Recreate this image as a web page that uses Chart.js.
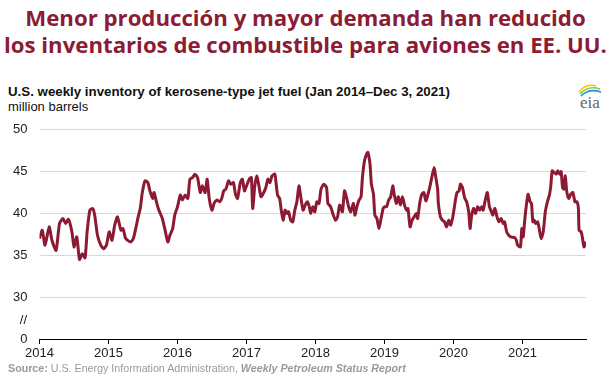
<!DOCTYPE html>
<html>
<head>
<meta charset="utf-8">
<script src="https://cdn.jsdelivr.net/npm/chart.js@4.4.0/dist/chart.umd.min.js"></script>
<style>
    body { margin: 0; width: 611px; height: 376px; overflow: hidden; background: #fff; position: relative; font-family: "Liberation Sans", Arial, sans-serif; }
    #title { position: absolute; left: 0; top: 4px; width: 611px; text-align: center; color: #8c1b34; font-family: "Open Sans", sans-serif; font-weight: 700; font-size: 22.2px; line-height: 27px; white-space: nowrap; }
    #sub { position: absolute; left: 8px; top: 84px; font-weight: bold; font-size: 13.3px; color: #111; white-space: nowrap; }
    #units { position: absolute; left: 8px; top: 99px; font-size: 13px; color: #111; }
    #logo { position: absolute; left: 574px; top: 83px; }
    #src { position: absolute; left: 8px; top: 362px; font-size: 10.7px; color: #9a9a9a; white-space: nowrap; }
    #src b { color: #9a9a9a; }
    #src i { color: #1a9ad6; }
    #chart-wrap { position: absolute; left: 0; top: 110px; width: 611px; height: 254px; }
</style>
</head>
<body>
<div id="title">Menor producción y mayor demanda han reducido<br>los inventarios de combustible para aviones en EE. UU.</div>
<div id="sub">U.S. weekly inventory of kerosene-type jet fuel (Jan 2014–Dec 3, 2021)</div>
<div id="units">million barrels</div>
<svg id="logo" width="32" height="28" viewBox="0 0 32 28">
    <path d="M6 11 Q14 2 26 6" stroke="#8cc63f" stroke-width="1.6" fill="none"/>
    <path d="M7 13 Q15 5 27 9" stroke="#1a9ad6" stroke-width="1.6" fill="none"/>
    <path d="M5 9 Q12 0 22 3" stroke="#f4c300" stroke-width="1.4" fill="none"/>
    <text x="16" y="25" text-anchor="middle" font-family="Liberation Serif, serif" font-size="17" fill="#666">eia</text>
</svg>
<div id="chart-wrap"><canvas id="chart" width="611" height="254"></canvas></div>
<div id="src"><b>Source:</b> U.S. Energy Information Administration, <i><b>Weekly Petroleum Status Report</b></i></div>

<script>
// decimal year of each reading
const weekYear = [
    2014.00, 2014.04, 2014.08, 2014.14, 2014.18, 2014.24, 2014.29, 2014.34, 2014.38, 2014.42,
    2014.47, 2014.50, 2014.54, 2014.58, 2014.62, 2014.66, 2014.69, 2014.73, 2014.77, 2014.80,
    2014.84, 2014.89, 2014.93, 2014.97, 2015.01, 2015.05, 2015.09, 2015.13, 2015.18, 2015.21,
    2015.25, 2015.32, 2015.36, 2015.40, 2015.43, 2015.46, 2015.49, 2015.53, 2015.57, 2015.60,
    2015.64, 2015.66, 2015.70, 2015.73, 2015.78, 2015.82, 2015.86, 2015.89, 2015.93, 2015.96,
    2016.00, 2016.04, 2016.07, 2016.11, 2016.15, 2016.18, 2016.22, 2016.25, 2016.29, 2016.33,
    2016.36, 2016.40, 2016.43, 2016.46, 2016.50, 2016.53, 2016.57, 2016.61, 2016.64, 2016.67,
    2016.70, 2016.74, 2016.77, 2016.81, 2016.84, 2016.87, 2016.91, 2016.94, 2016.97, 2017.00,
    2017.04, 2017.07, 2017.09, 2017.12, 2017.15, 2017.18, 2017.21, 2017.25, 2017.28, 2017.31,
    2017.34, 2017.37, 2017.41, 2017.43, 2017.45, 2017.48, 2017.50, 2017.53, 2017.56, 2017.59,
    2017.61, 2017.64, 2017.67, 2017.70, 2017.73, 2017.76, 2017.79, 2017.82, 2017.85, 2017.88,
    2017.91, 2017.93, 2017.96, 2017.99, 2018.02, 2018.05, 2018.08, 2018.12, 2018.16, 2018.18,
    2018.22, 2018.25, 2018.29, 2018.32, 2018.35, 2018.39, 2018.42, 2018.45, 2018.48, 2018.51,
    2018.55, 2018.57, 2018.60, 2018.63, 2018.66, 2018.68, 2018.71, 2018.74, 2018.76, 2018.79,
    2018.81, 2018.84, 2018.86, 2018.89, 2018.92, 2018.95, 2018.98, 2019.00, 2019.03, 2019.06,
    2019.09, 2019.12, 2019.14, 2019.17, 2019.20, 2019.23, 2019.26, 2019.29, 2019.32, 2019.34,
    2019.37, 2019.40, 2019.43, 2019.46, 2019.48, 2019.51, 2019.54, 2019.57, 2019.60, 2019.63,
    2019.66, 2019.69, 2019.72, 2019.74, 2019.77, 2019.78, 2019.81, 2019.84, 2019.87, 2019.90,
    2019.93, 2019.96, 2019.99, 2020.02, 2020.05, 2020.08, 2020.10, 2020.13, 2020.16, 2020.19,
    2020.22, 2020.24, 2020.26, 2020.29, 2020.32, 2020.35, 2020.38, 2020.41, 2020.43, 2020.46,
    2020.49, 2020.52, 2020.54, 2020.57, 2020.60, 2020.63, 2020.66, 2020.69, 2020.72, 2020.74,
    2020.77, 2020.80, 2020.83, 2020.89, 2020.91, 2020.93, 2020.97, 2020.99, 2021.01, 2021.03,
    2021.05, 2021.08, 2021.11, 2021.13, 2021.15, 2021.17, 2021.19, 2021.22, 2021.25, 2021.27,
    2021.30, 2021.33, 2021.36, 2021.39, 2021.41, 2021.43, 2021.46, 2021.49, 2021.51, 2021.54,
    2021.56, 2021.58, 2021.60, 2021.62, 2021.64, 2021.67, 2021.70, 2021.73, 2021.76, 2021.79,
    2021.81, 2021.82, 2021.85, 2021.87, 2021.89, 2021.92
];

// million barrels
const jetFuel = [
    37.0, 38.0, 36.2, 38.4, 36.8, 35.6, 38.8, 39.4, 38.8, 39.3,
    37.8, 36.0, 37.2, 34.5, 35.2, 34.7, 37.8, 40.4, 40.6, 39.8,
    37.4, 36.2, 35.8, 36.2, 37.8, 36.8, 38.6, 39.6, 38.0, 38.2,
    37.0, 36.6, 37.0, 38.4, 39.6, 40.6, 42.5, 43.9, 43.7, 42.7,
    41.8, 42.5, 41.2, 40.4, 39.4, 38.0, 36.6, 37.4, 38.2, 39.8,
    40.8, 42.2, 41.6, 42.2, 41.8, 44.1, 44.3, 44.7, 44.3, 42.5,
    43.3, 42.5, 44.1, 41.8, 40.4, 41.2, 41.6, 41.4, 41.8, 42.7,
    42.9, 43.9, 43.5, 43.7, 42.3, 41.8, 43.7, 44.1, 42.7, 43.3,
    44.1, 44.3, 40.6, 43.3, 44.5, 43.3, 42.0, 42.5, 43.1, 44.1,
    43.7, 44.5, 44.7, 43.5, 42.2, 41.8, 40.6, 39.2, 40.4, 40.0,
    40.2, 39.2, 39.0, 40.4, 41.4, 43.3, 41.8, 40.4, 41.0, 41.4,
    40.8, 40.0, 40.8, 40.2, 41.4, 41.2, 42.9, 43.5, 43.1, 41.2,
    40.8, 40.0, 39.2, 39.6, 41.0, 40.2, 42.7, 41.9, 40.8, 40.2,
    41.2, 39.8, 40.8, 41.6, 42.0, 44.3, 46.3, 47.1, 47.3, 45.9,
    43.5, 42.3, 39.8, 39.4, 38.2, 39.4, 40.6, 40.8, 40.8, 41.6,
    42.0, 43.3, 42.3, 41.2, 42.0, 41.0, 42.0, 41.0, 40.4, 40.6,
    38.4, 39.2, 39.6, 40.0, 39.4, 41.2, 42.3, 42.5, 41.5, 42.3,
    43.3, 44.5, 45.5, 44.5, 42.9, 41.2, 39.6, 39.2, 39.0, 38.4,
    39.2, 38.6, 39.6, 41.2, 42.5, 42.7, 43.5, 43.1, 41.9, 41.4,
    40.2, 38.2, 39.6, 40.6, 40.0, 40.8, 40.4, 40.8, 40.4, 41.6,
    42.5, 40.8, 40.4, 39.8, 40.6, 39.6, 39.0, 39.4, 38.8, 39.0,
    37.8, 37.4, 37.2, 37.1, 36.8, 36.2, 36.0, 38.2, 37.2, 39.0,
    40.6, 42.3, 41.4, 41.2, 39.0, 39.2, 38.8, 39.0, 37.8, 37.0,
    37.8, 40.2, 41.4, 42.2, 43.3, 45.1, 44.9, 44.7, 45.1, 44.7,
    45.0, 43.1, 42.9, 44.5, 42.7, 41.8, 42.3, 42.5, 41.4, 41.4,
    40.6, 38.0, 37.8, 37.0, 36.0, 36.6
];

// the axis is broken: the bottom position (25) is labelled 0
const yTicks = [25, 30, 35, 40, 45, 50];
const yTickLabels = ['0', '30', '35', '40', '45', '50'];
const xTicks = [2014, 2015, 2016, 2017, 2018, 2019, 2020, 2021];

const points = weekYear.map((x, i) => ({ x: x, y: jetFuel[i] }));

// draws the "//" break mark next to the y axis
const breakMark = {
    id: 'breakMark',
    afterDraw(chart) {
        const ctx = chart.ctx;
        const y = chart.scales.y.getPixelForValue(27.2);
        ctx.save();
        ctx.font = '13px "Liberation Sans", Arial, sans-serif';
        ctx.fillStyle = '#222';
        ctx.textAlign = 'right';
        ctx.textBaseline = 'middle';
        ctx.fillText('//', 27, y);
        ctx.restore();
    }
};

const ctx = document.getElementById('chart').getContext('2d');
new Chart(ctx, {
    type: 'line',
    data: {
        datasets: [{
            data: points,
            borderColor: '#8b1a32',
            borderWidth: 3,
            pointRadius: 0,
            tension: 0.2,
            fill: false
        }]
    },
    options: {
        responsive: false,
        animation: false,
        layout: { padding: { top: 17, right: 25, left: 0, bottom: 0 } },
        plugins: { legend: { display: false }, tooltip: { enabled: false } },
        scales: {
            x: {
                type: 'linear',
                min: 2014,
                max: 2021.92,
                afterBuildTicks: scale => { scale.ticks = xTicks.map(v => ({ value: v })); },
                afterFit: scale => { scale.height = 25; },
                grid: { drawOnChartArea: false, drawTicks: true, tickLength: 5, tickColor: '#000' },
                border: { display: true, color: '#000', width: 1 },
                ticks: {
                    color: '#222',
                    padding: 2,
                    maxRotation: 0,
                    font: { family: '"Liberation Sans", Arial, sans-serif', size: 13 },
                    callback: v => String(v)
                }
            },
            y: {
                min: 25,
                max: 50,
                afterBuildTicks: scale => { scale.ticks = yTicks.map(v => ({ value: v })); },
                afterFit: scale => { scale.width = 39.5; },
                grid: {
                    drawTicks: false,
                    color: c => c.tick && c.tick.value === 25 ? 'rgba(0,0,0,0)' : '#d9d9d9'
                },
                border: { display: false },
                ticks: {
                    color: '#222',
                    padding: 12,
                    font: { family: '"Liberation Sans", Arial, sans-serif', size: 13 },
                    callback: v => yTickLabels[yTicks.indexOf(v)]
                }
            }
        }
    },
    plugins: [breakMark]
});
</script>
</body>
</html>
